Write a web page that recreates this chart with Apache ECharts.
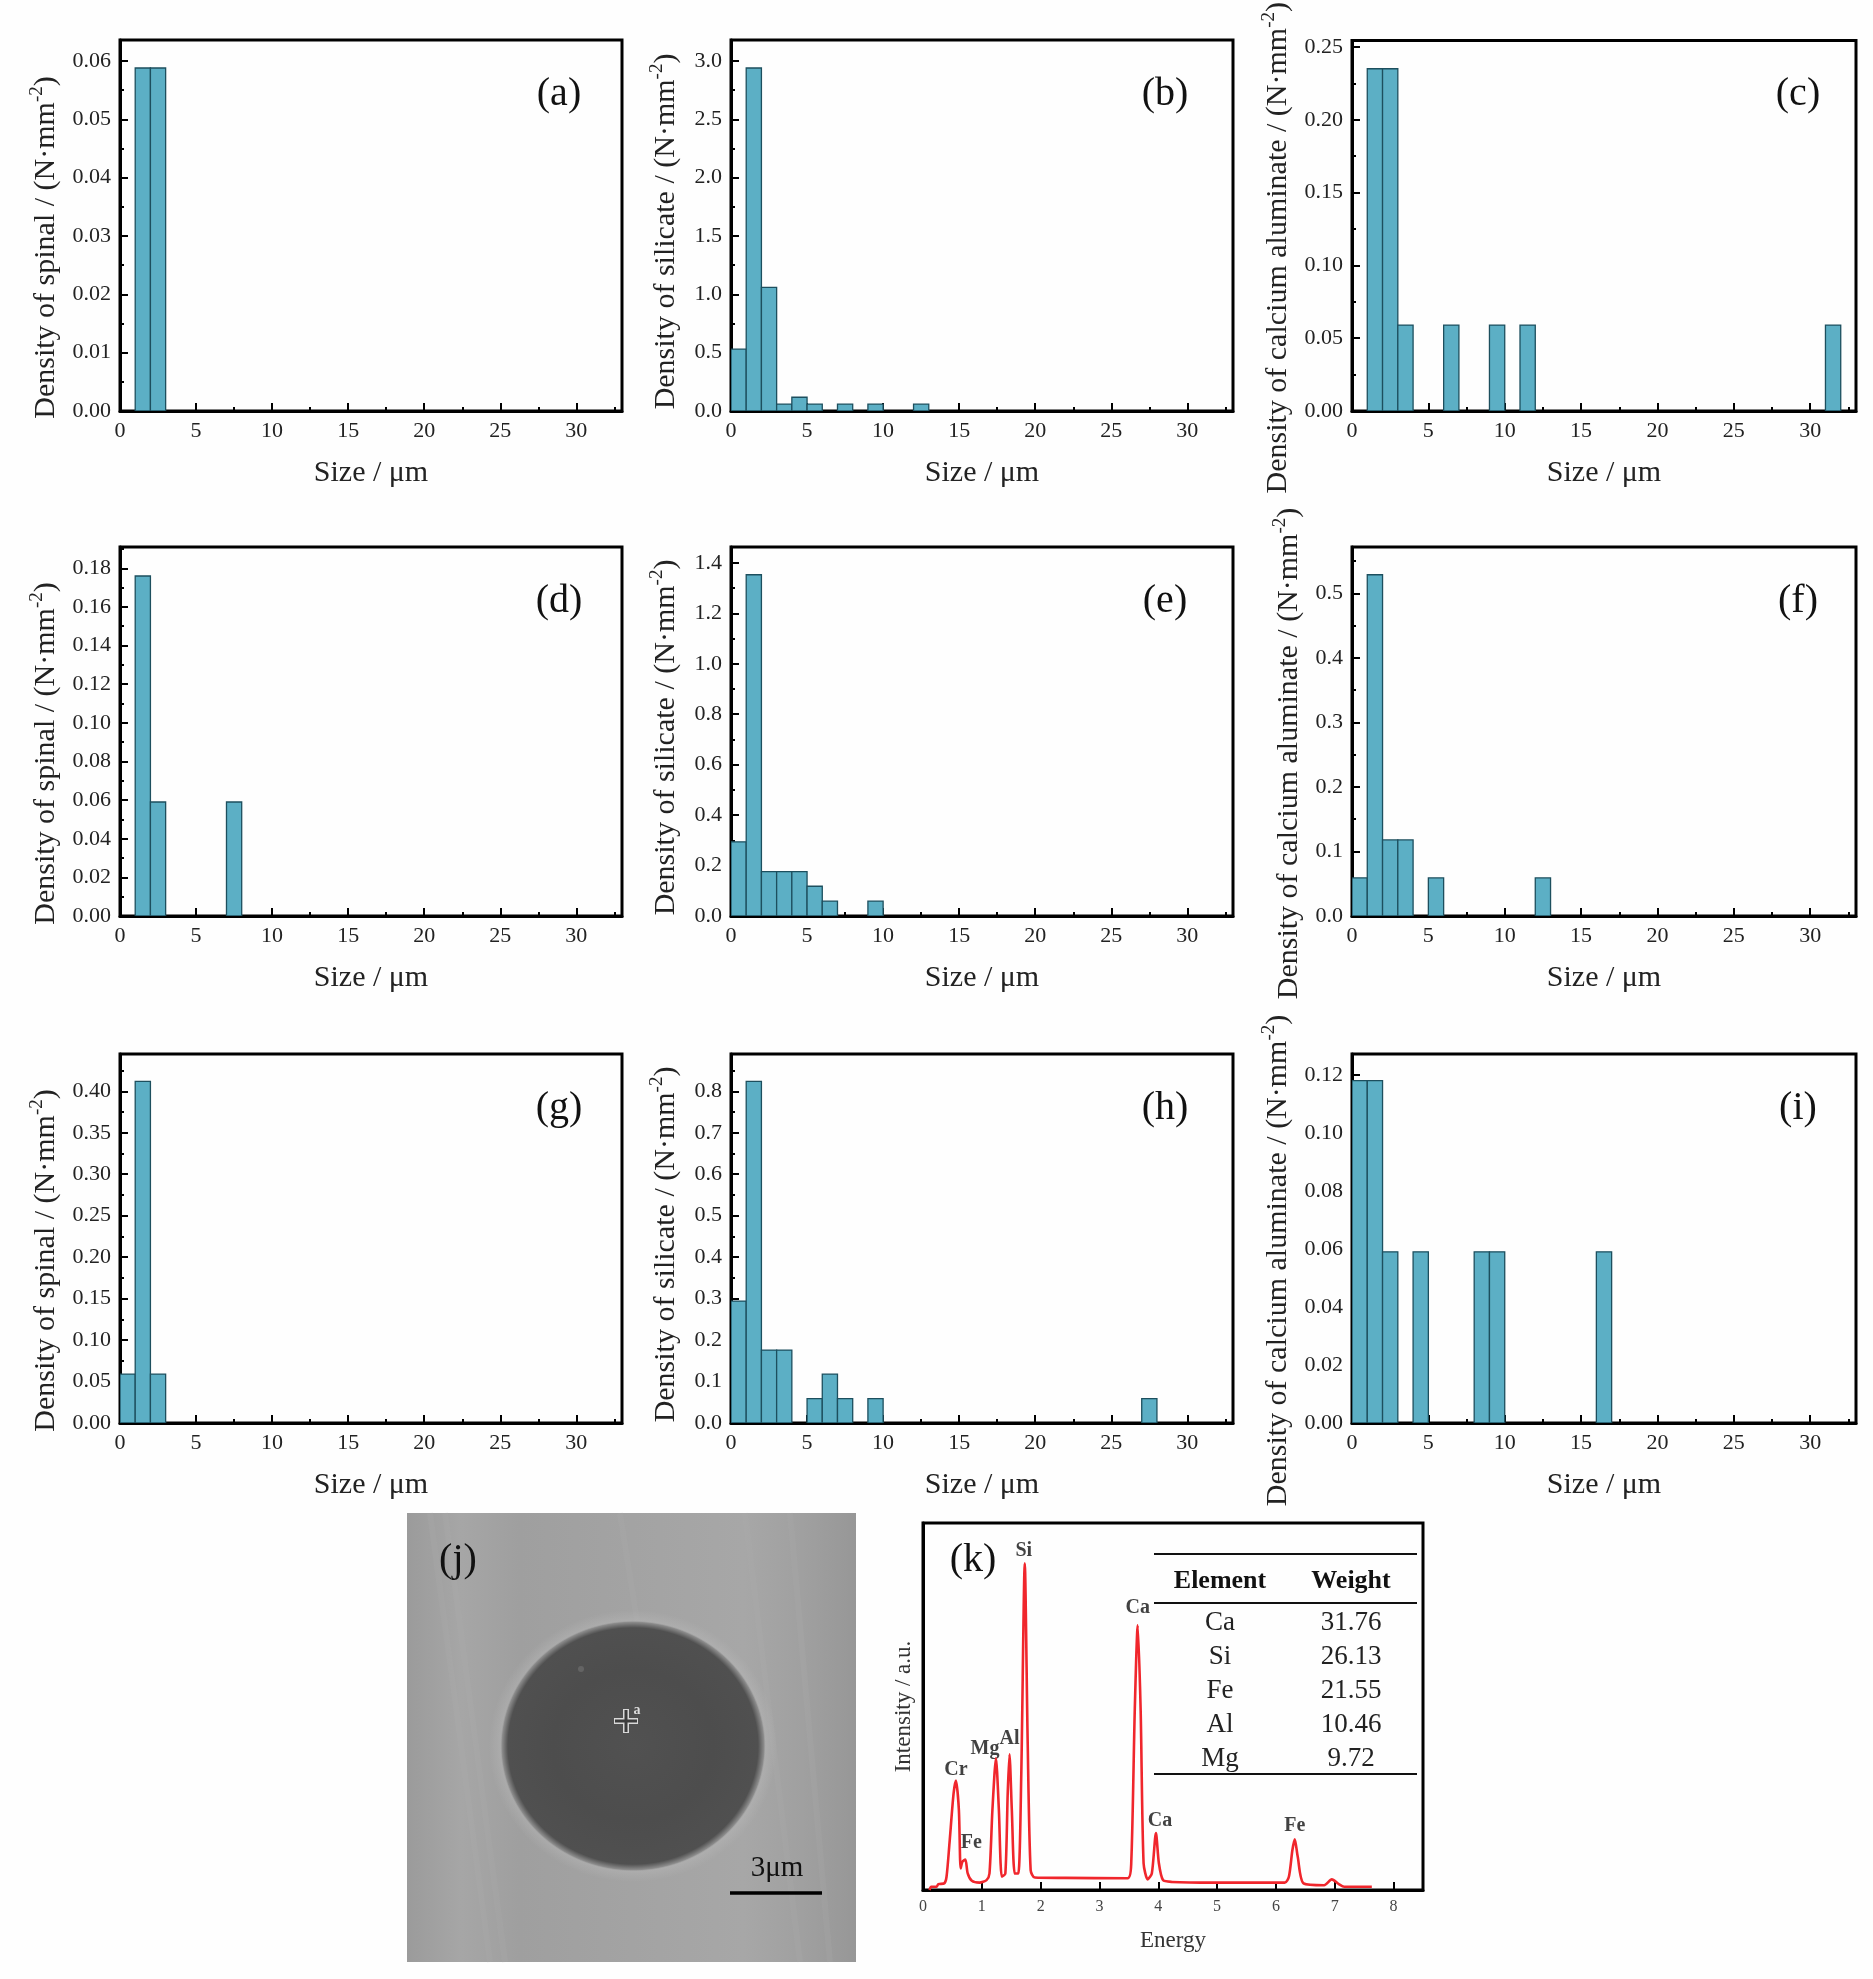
<!DOCTYPE html>
<html>
<head>
<meta charset="utf-8">
<script src="https://cdn.jsdelivr.net/npm/echarts@6/dist/echarts.min.js"></script>
<style>
  html,body{margin:0;padding:0;background:#fff;}
  #main{width:1873px;height:1979px;}
</style>
</head>
<body>
<div id="main"></div>
<script>
// bin start (um) and density for each histogram panel
const binsA=[1,2];
const valsA=[0.0588,0.0588];
const binsB=[0,1,2,3,4,5,7,9,12];
const valsB=[0.53,2.94,1.06,0.059,0.118,0.059,0.059,0.059,0.059];
const binsC=[1,2,3,6,9,11,31];
const valsC=[0.235,0.235,0.059,0.059,0.059,0.059,0.059];
const binsD=[1,2,7];
const valsD=[0.176,0.059,0.059];
const binsE=[0,1,2,3,4,5,6,9];
const valsE=[0.294,1.353,0.176,0.176,0.176,0.118,0.059,0.059];
const binsF=[0,1,2,3,5,12];
const valsF=[0.059,0.529,0.118,0.118,0.059,0.059];
const binsG=[0,1,2];
const valsG=[0.059,0.412,0.059];
const binsH=[0,1,2,3,5,6,7,9,27];
const valsH=[0.294,0.824,0.176,0.176,0.059,0.118,0.059,0.059,0.059];
const binsI=[0,1,2,4,8,9,16];
const valsI=[0.118,0.118,0.059,0.059,0.059,0.059,0.059];

const panelNames=['(a)','(b)','(c)','(d)','(e)','(f)','(g)','(h)','(i)'];
const yMaterials=['spinal','silicate','calcium aluminate'];
const yMax=[0.0636,3.18,0.2544,0.191,1.463,0.572,0.445,0.89,0.1272];
const yStep=[0.01,0.5,0.05,0.02,0.2,0.1,0.05,0.1,0.02];
const yDigits=[2,1,2,2,1,1,2,1,2];

// EDS spectrum
const energy=[0.11,0.14,0.23,0.26,0.36,0.40,0.45,0.52,0.56,0.61,0.64,0.67,0.72,0.76,0.83,0.96,1.08,1.13,1.18,1.24,1.29,1.34,1.40,1.44,1.47,1.51,1.56,1.62,1.67,1.73,1.78,1.83,1.90,2.41,3.48,3.54,3.60,3.65,3.70,3.75,3.82,3.89,3.96,4.01,4.08,4.23,4.93,6.15,6.22,6.28,6.32,6.37,6.47,6.82,6.95,7.07,7.16,7.63];
const intensity=[0,0.9,0.9,1.6,1.8,3.6,12.7,26.3,29.8,21.8,5.9,7.7,8.3,4.5,2.5,2.0,2.7,4.5,21.8,35.9,21.8,3.6,4.5,26.3,37.0,21.8,4.5,4.5,30.9,89.0,39.9,5.4,3.4,3.3,3.2,7.3,49.0,72.1,49.0,7.3,2.9,4.5,15.5,7.3,2.7,2.2,2.0,2.0,3.6,10.9,13.8,9.1,1.8,1.3,2.9,1.6,0.9,0.9];
const peakNames=['Cr','Fe','Mg','Al','Si','Ca','Ca','Fe'];
const peakEnergy=[0.56,0.72,1.24,1.47,1.73,3.65,3.96,6.32];
const peakHeight=[29.8,8.3,35.9,37.0,89.0,72.1,15.5,13.8];
const peakShift=[[0,-1],[6,-7],[-11,1],[0,-5],[-1,-3],[0,-8],[4,-2],[0,-4]];

const tableHead=['Element','Weight'];
const tableElement=['Ca','Si','Fe','Al','Mg'];
const tableWeight=['31.76','26.13','21.55','10.46','9.72'];

const allBins=[binsA,binsB,binsC,binsD,binsE,binsF,binsG,binsH,binsI];
const allVals=[valsA,valsB,valsC,valsD,valsE,valsF,valsG,valsH,valsI];

const serif='"Liberation Serif","Times New Roman",serif';
const ink='#222';
const colLeft=[120,731,1352];
const colWidth=[502,502,504];
const rowTop=[40,547,1054];
const rowHeight=[371,369,369];
const labelX=[439,434,446];
const titleGap=[[56,47,56],[56,47,45],[56,47,56]];
const titleShift=[44,12,44];

const chart=echarts.init(document.getElementById('main'),null,{renderer:'canvas'});

const grids=[],xAxes=[],yAxes=[],series=[],graphic=[];

function histItem(params,api){
  const start=api.coord([api.value(0),api.value(1)]);
  const end=api.coord([api.value(0)+1,0]);
  return {
    type:'rect',
    shape:{x:start[0],y:start[1],width:end[0]-start[0],height:end[1]-start[1]},
    style:{fill:'#5cafc5',stroke:'#1d4f5e',lineWidth:1.3}
  };
}

allBins.forEach((bins,i)=>{
  const c=i%3, r=Math.floor(i/3);
  const left=colLeft[c], top=rowTop[r];
  grids.push({left:left,top:top,width:colWidth[c],height:rowHeight[r],show:true,borderColor:'#000',borderWidth:3,backgroundColor:'transparent'});
  xAxes.push({
    type:'value',gridIndex:i,min:0,max:33,interval:5,
    name:'Size / μm',nameLocation:'middle',nameGap:47,
    nameTextStyle:{fontFamily:serif,fontSize:30,color:ink},
    axisLine:{onZero:false,lineStyle:{color:'#000',width:3}},
    axisTick:{show:true,inside:true,length:8,lineStyle:{color:'#000',width:2}},
    minorTick:{show:true,splitNumber:2,length:4,lineStyle:{color:'#000',width:2}},
    splitLine:{show:false},
    axisLabel:{fontFamily:serif,fontSize:22,color:ink,margin:9,showMaxLabel:false,formatter:v=>String(v)}
  });
  const digits=yDigits[i];
  yAxes.push({
    type:'value',gridIndex:i,min:0,max:yMax[i],interval:yStep[i],
    name:'{n|Density of '+yMaterials[c]+' / (N·mm}{s|-2}{n|)}',
    nameLocation:'middle',nameGap:titleGap[r][c],nameRotate:90,
    nameTextStyle:{
      padding:[0,titleShift[c],0,0],
      rich:{
        n:{fontFamily:serif,fontSize:30,color:ink,lineHeight:36},
        s:{fontFamily:serif,fontSize:19,color:ink,lineHeight:36,verticalAlign:'top'}
      }
    },
    axisLine:{onZero:false,lineStyle:{color:'#000',width:3}},
    axisTick:{show:true,inside:true,length:8,lineStyle:{color:'#000',width:2}},
    minorTick:{show:true,splitNumber:2,length:4,lineStyle:{color:'#000',width:2}},
    splitLine:{show:false},
    axisLabel:{fontFamily:serif,fontSize:22,color:ink,margin:9,showMaxLabel:false,formatter:v=>v.toFixed(digits)}
  });
  series.push({
    type:'custom',xAxisIndex:i,yAxisIndex:i,silent:true,clip:true,
    renderItem:histItem,encode:{x:0,y:1},
    data:bins.map((b,k)=>[b,allVals[i][k]])
  });
  graphic.push({
    type:'text',x:left+labelX[c],y:top+54,
    style:{text:panelNames[i],font:'40px '+serif,fill:'#111',textAlign:'center',textVerticalAlign:'middle'}
  });
});

// panel (k), the spectrum
grids.push({left:923,top:1523,width:500,height:367,show:true,borderColor:'#000',borderWidth:3,backgroundColor:'transparent'});
xAxes.push({
  type:'value',gridIndex:9,min:0,max:8.5,interval:1,
  name:'Energy',nameLocation:'middle',nameGap:39,
  nameTextStyle:{fontFamily:serif,fontSize:23,color:'#333'},
  axisLine:{onZero:false,lineStyle:{color:'#000',width:3}},
  axisTick:{show:true,inside:true,length:8,lineStyle:{color:'#000',width:2}},
  splitLine:{show:false},
  axisLabel:{fontFamily:serif,fontSize:16,color:'#444',margin:9,showMaxLabel:false}
});
yAxes.push({
  type:'value',gridIndex:9,min:0,max:100,
  name:'Intensity / a.u.',nameLocation:'middle',nameGap:8,nameRotate:90,
  nameTextStyle:{fontFamily:serif,fontSize:23,color:'#333'},
  axisLine:{onZero:false,lineStyle:{color:'#000',width:3}},
  axisTick:{show:false},axisLabel:{show:false},splitLine:{show:false}
});
series.push({
  type:'line',xAxisIndex:9,yAxisIndex:9,silent:true,showSymbol:false,smooth:0.25,
  lineStyle:{color:'#f0262c',width:2.6},
  data:energy.map((e,k)=>[e,intensity[k]])
});
series.push({
  type:'scatter',xAxisIndex:9,yAxisIndex:9,silent:true,symbolSize:0,
  label:{show:true,position:'top',distance:0,fontFamily:serif,fontWeight:'bold',fontSize:20,color:'#111',formatter:p=>peakNames[p.dataIndex]},
  data:peakEnergy.map((e,k)=>({value:[e,peakHeight[k]],label:{offset:peakShift[k]}}))
});

// table inside panel (k)
const tableLines=[1554,1603,1774];
const tableRows=[1623,1657,1691,1725,1759];
tableLines.forEach(y=>graphic.push({type:'line',shape:{x1:1154,y1:y,x2:1417,y2:y},style:{stroke:'#111',lineWidth:2}}));
graphic.push({type:'text',x:1220,y:1581,style:{text:tableHead[0],font:'bold 26px '+serif,fill:'#111',textAlign:'center',textVerticalAlign:'middle'}});
graphic.push({type:'text',x:1351,y:1581,style:{text:tableHead[1],font:'bold 26px '+serif,fill:'#111',textAlign:'center',textVerticalAlign:'middle'}});
tableElement.forEach((t,k)=>{
  graphic.push({type:'text',x:1220,y:tableRows[k],style:{text:t,font:'27px '+serif,fill:ink,textAlign:'center',textVerticalAlign:'middle'}});
  graphic.push({type:'text',x:1351,y:tableRows[k],style:{text:tableWeight[k],font:'27px '+serif,fill:ink,textAlign:'center',textVerticalAlign:'middle'}});
});
graphic.push({type:'text',x:973,y:1560,style:{text:'(k)',font:'40px '+serif,fill:'#111',textAlign:'center',textVerticalAlign:'middle'}});

// panel (j), the micrograph
graphic.push({
  type:'rect',shape:{x:407,y:1513,width:449,height:449},z:-2,
  style:{fill:new echarts.graphic.LinearGradient(0,0,1,0,[
    {offset:0,color:'#9b9b9b'},{offset:0.12,color:'#a6a6a6'},{offset:0.25,color:'#9f9f9f'},{offset:0.5,color:'#a3a3a3'},
    {offset:0.75,color:'#a7a7a7'},{offset:0.88,color:'#a0a0a0'},{offset:1,color:'#979797'}
  ])}
});
[[430,1513,490,1962],[445,1513,505,1962],[620,1513,640,1640],[745,1513,800,1962],[790,1513,830,1962]].forEach(p=>{
  graphic.push({type:'line',z:-1,shape:{x1:p[0],y1:p[1],x2:p[2],y2:p[3]},style:{stroke:'#b0b0b0',lineWidth:6,opacity:0.2}});
});
// soft halo and soft edged disc
graphic.push({
  type:'circle',x:633,y:1746,scaleY:0.945,z:-1,shape:{cx:0,cy:0,r:144},
  style:{fill:new echarts.graphic.RadialGradient(0.5,0.5,0.5,[
    {offset:0,color:'rgba(186,186,186,0.6)'},{offset:0.88,color:'rgba(186,186,186,0.6)'},{offset:1,color:'rgba(186,186,186,0)'}
  ])}
});
graphic.push({
  type:'circle',x:633,y:1746,scaleY:0.945,z:0,shape:{cx:0,cy:0,r:133},
  style:{fill:new echarts.graphic.RadialGradient(0.5,0.5,0.5,[
    {offset:0,color:'#515151'},{offset:0.6,color:'#4d4d4d'},{offset:0.94,color:'#505050'},{offset:0.985,color:'#8c8c8c'},{offset:1,color:'rgba(170,170,170,0)'}
  ])}
});
graphic.push({type:'circle',x:581,y:1669,z:0,shape:{cx:0,cy:0,r:3},style:{fill:'#6a6a6a',opacity:0.8}});
[[614,1721,638,1721],[626,1709,626,1733]].forEach(p=>{
  graphic.push({type:'line',z:1,shape:{x1:p[0],y1:p[1],x2:p[2],y2:p[3]},style:{stroke:'#d8d8d8',lineWidth:6}});
});
[[615,1721,637,1721],[626,1710,626,1732]].forEach(p=>{
  graphic.push({type:'line',z:1,shape:{x1:p[0],y1:p[1],x2:p[2],y2:p[3]},style:{stroke:'#3c3c3c',lineWidth:3}});
});
graphic.push({type:'text',x:637,y:1710,z:1,style:{text:'a',font:'bold 14px '+serif,fill:'#ddd',textAlign:'center',textVerticalAlign:'middle'}});
graphic.push({type:'text',x:458,y:1560,z:1,style:{text:'(j)',font:'40px '+serif,fill:'#111',textAlign:'center',textVerticalAlign:'middle'}});
graphic.push({type:'text',x:777,y:1868,z:1,style:{text:'3μm',font:'29px '+serif,fill:'#111',textAlign:'center',textVerticalAlign:'middle'}});
graphic.push({type:'line',z:1,shape:{x1:730,y1:1893,x2:822,y2:1893},style:{stroke:'#000',lineWidth:3.5}});

chart.setOption({
  animation:false,
  backgroundColor:'#fefefe',
  grid:grids,
  xAxis:xAxes,
  yAxis:yAxes,
  series:series,
  graphic:{elements:graphic}
});
</script>
</body>
</html>
